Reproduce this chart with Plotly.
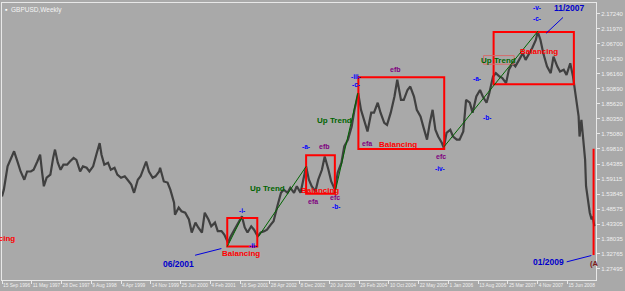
import plotly.graph_objects as go

# ---------------- data (bar index = weekly bar number since 15 Sep 1996) ----------------
bars = [0, 2, 6, 10, 13, 17, 20, 24, 27, 31, 34, 38, 41, 43, 45, 48, 52, 55, 57, 60, 63, 66, 70, 73, 77, 80,
        84, 87, 91, 94, 98, 102, 105, 107, 110, 114, 117, 121, 124, 128, 132, 135, 139, 142, 146, 149, 153,
        155, 158, 162, 165, 169, 170, 174, 178, 181, 185, 186, 190, 193, 197, 201, 204, 208, 211, 215, 218,
        222, 225, 229, 232, 236, 239, 243, 246, 250, 254, 258, 261, 264, 268, 271, 275, 278, 282, 285, 289,
        292, 296, 300, 303, 307, 310, 314, 317, 321, 324, 327, 330, 333, 337, 340, 344, 347, 351, 354, 358,
        361, 365, 368, 372, 376, 379, 383, 386, 390, 393, 397, 400, 404, 407, 411, 414, 418, 422, 425, 429,
        432, 436, 439, 443, 446, 450, 453, 457, 460, 463, 466, 469, 473, 475, 478, 482, 485, 489, 492, 496,
        499, 503, 506, 510, 514, 517, 521, 524, 528, 531, 535, 538, 542, 545, 549, 552, 556, 560, 563, 567,
        570, 574, 576, 579, 582, 586, 590, 593, 597, 600, 604, 607, 611, 614, 616, 618, 620, 621, 623, 625,
        627, 628, 630, 632, 634, 635, 637]
prices = [1.530, 1.554, 1.636, 1.666, 1.689, 1.649, 1.618, 1.589, 1.618, 1.618, 1.624, 1.653, 1.677, 1.618,
          1.566, 1.596, 1.607, 1.666, 1.695, 1.649, 1.624, 1.642, 1.642, 1.653, 1.666, 1.659, 1.618, 1.636,
          1.631, 1.618, 1.636, 1.684, 1.718, 1.677, 1.642, 1.649, 1.624, 1.631, 1.607, 1.596, 1.601, 1.589,
          1.572, 1.543, 1.589, 1.601, 1.636, 1.653, 1.618, 1.596, 1.601, 1.618, 1.631, 1.583, 1.579, 1.554,
          1.508, 1.466, 1.491, 1.478, 1.473, 1.449, 1.403, 1.438, 1.421, 1.403, 1.473, 1.449, 1.425, 1.438,
          1.408, 1.408, 1.396, 1.368, 1.390, 1.413, 1.438, 1.460, 1.421, 1.403, 1.425, 1.413, 1.390, 1.403,
          1.408, 1.413, 1.431, 1.443, 1.495, 1.543, 1.554, 1.543, 1.561, 1.543, 1.566, 1.543, 1.589, 1.636,
          1.589, 1.566, 1.548, 1.589, 1.624, 1.671, 1.624, 1.583, 1.554, 1.614, 1.649, 1.706, 1.730, 1.776,
          1.835, 1.894, 1.835, 1.789, 1.759, 1.825, 1.825, 1.860, 1.825, 1.789, 1.782, 1.825, 1.882, 1.941,
          1.870, 1.870, 1.905, 1.917, 1.882, 1.835, 1.812, 1.776, 1.730, 1.789, 1.835, 1.765, 1.741, 1.718,
          1.701, 1.754, 1.765, 1.741, 1.730, 1.730, 1.759, 1.870, 1.860, 1.825, 1.882, 1.905, 1.882, 1.860,
          1.894, 1.952, 1.964, 1.952, 1.947, 1.929, 1.976, 1.999, 1.988, 2.011, 2.034, 2.011, 2.034, 2.052,
          2.081, 2.110, 2.081, 2.034, 1.988, 1.964, 2.022, 1.988, 1.970, 1.976, 1.958, 1.999, 1.952, 1.905,
          1.860, 1.812, 1.741, 1.800, 1.730, 1.659, 1.566, 1.508, 1.473, 1.449, 1.460, 1.425]

x_tick_bars = [0, 32, 64, 96, 128, 160, 192, 224, 256, 288, 320, 352, 384, 416, 448, 480, 512, 544, 576, 608]
x_tick_labels = ["15 Sep 1996", "11 May 1997", "28 Dec 1997", "9 Aug 1998", "4 Apr 1999", "14 Nov 1999",
                 "25 Jun 2000", "4 Feb 2001", "16 Sep 2001", "28 Apr 2002", "8 Dec 2002", "20 Jul 2003",
                 "29 Feb 2004", "10 Oct 2004", "22 May 2005", "1 Jan 2006", "13 Aug 2006", "25 Mar 2007",
                 "4 Nov 2007", "15 Jun 2008"]
y_tick_labels = ["2.17240", "2.11970", "2.06700", "2.01430", "1.96160", "1.90890", "1.85620", "1.80350",
                 "1.75080", "1.69810", "1.64385", "1.59115", "1.53845", "1.48575", "1.43305", "1.38035",
                 "1.32765", "1.27495"]

# analyst drawings: (bar0, price0, bar1, price1)
boxes = [(242.2, 1.3537, 274.5, 1.4545), (327.0, 1.5399, 357.9, 1.6752),
         (383.2, 1.6973, 475.5, 1.9493), (528.6, 1.9254, 614.9, 2.1092)]
box_edge = (636.1, 1.3238, 1.6980)
trend_box = (517.8, 1.9957, 550.7, 2.0259)
trend_lines = [(242.2, 1.3537, 257.8, 1.4556), (275.9, 1.3899, 327.1, 1.6359),
               (357.9, 1.5424, 382.7, 1.8938), (475.3, 1.7051, 576.4, 2.1127)]
date_lines = [(207.6, 1.3231, 235.9, 1.3467), (607.2, 1.2999, 633.7, 1.3221), (585.1, 2.1046, 603.2, 2.1601)]

date_labels = [("06/2001", 189.9, 1.2940), ("01/2009", 587.8, 1.3010), ("11/2007", 610.1, 2.1952)]
balancing_labels = [(256.8, 1.3291), (341.6, 1.5522), (426.2, 1.7146), (577.9, 2.0399)]
uptrend_labels = [(285.1, 1.5564), (357.0, 1.7964), (534.2, 2.0097)]
ef_labels = [("efb", 347.3, 1.7061), ("efa", 334.2, 1.5129), ("efc", 358.3, 1.5248),
             ("efb", 423.3, 1.9756), ("efa", 392.6, 1.7156), ("efc", 471.8, 1.6710)]
wave_labels = [("-i-", 258.0, 1.4820), ("-ii-", 270.3, 1.3565), ("-a-", 327.0, 1.7061), ("-b-", 358.8, 1.4964),
               ("-iii-", 380.2, 1.9510), ("-c-", 380.2, 1.9229), ("-iv-", 471.4, 1.6271),
               ("-a-", 510.9, 1.9465), ("-b-", 521.6, 1.8094), ("-v-", 575.4, 2.1959), ("-c-", 575.4, 2.1573)]

BG = "#a9a9a9"
FONT = "Liberation Sans, Arial, sans-serif"

fig = go.Figure()
fig.add_trace(go.Scatter(x=bars, y=prices, mode="lines",
                         line=dict(color="#404040", width=2.2), hoverinfo="skip"))

shapes = []
for b0, p0, b1, p1 in boxes:
    shapes.append(dict(type="rect", xref="x", yref="y", x0=b0, x1=b1, y0=p0, y1=p1,
                       line=dict(color="#ff0000", width=2), layer="above"))
shapes.append(dict(type="line", xref="x", yref="y", x0=box_edge[0], x1=box_edge[0],
                   y0=box_edge[1], y1=box_edge[2], line=dict(color="#ff0000", width=2)))
shapes.append(dict(type="rect", xref="x", yref="y", x0=trend_box[0], x1=trend_box[2],
                   y0=trend_box[1], y1=trend_box[3], line=dict(color="#d46a6a", width=1)))
for b0, p0, b1, p1 in trend_lines:
    shapes.append(dict(type="line", xref="x", yref="y", x0=b0, x1=b1, y0=p0, y1=p1,
                       line=dict(color="#006400", width=1)))
for b0, p0, b1, p1 in date_lines:
    shapes.append(dict(type="line", xref="x", yref="y", x0=b0, x1=b1, y0=p0, y1=p1,
                       line=dict(color="#0000dd", width=1)))

ann = []
def label(text, x, y, color, size, **kw):
    d = dict(text="<b>%s</b>" % text, x=x, y=y, xref="x", yref="y", showarrow=False,
             font=dict(family=FONT, size=size, color=color))
    d.update(kw)
    ann.append(d)

for t, x, y in date_labels:
    label(t, x, y, "#0000cc", 8.5)
for x, y in balancing_labels:
    label("Balancing", x, y, "#ff0000", 8)
label("Balancing", 15.9, 1.3818, "#ff0000", 8, xanchor="right")
for x, y in uptrend_labels:
    label("Up Trend", x, y, "#006400", 8)
for t, x, y in ef_labels:
    label(t, x, y, "#800080", 7)
for t, x, y in wave_labels:
    label(t, x, y, "#0000ff", 6.5)
label("(A", 630.2, 1.2957, "#7a1a1a", 7.5, xanchor="left")

ann.append(dict(text="GBPUSD,Weekly", xref="paper", yref="paper", x=0.012, y=1, xanchor="left",
                yanchor="top", yshift=-1, showarrow=False, font=dict(family=FONT, size=6.5, color="#f4f4f4")))
ann.append(dict(text="\u25aa", xref="paper", yref="paper", x=0.002, y=1, xanchor="left",
                yanchor="top", yshift=-1, showarrow=False, font=dict(family=FONT, size=7, color="#ffffff")))

fig.update_layout(
    width=625, height=291,
    margin=dict(l=1, r=22, t=3, b=10.5),
    paper_bgcolor=BG, plot_bgcolor=BG,
    showlegend=False,
    shapes=shapes, annotations=ann,
    xaxis=dict(range=[0, 638.7], tickvals=x_tick_bars, ticktext=x_tick_labels, tickangle=0,
               ticklabelposition="outside right", ticks="outside", ticklen=3, tickcolor="#e8e8e8",
               showgrid=False, zeroline=False, showline=True, linecolor="#e8e8e8", linewidth=1,
               mirror=True, tickfont=dict(family=FONT, size=4.8, color="#f0f0f0")),
    yaxis=dict(range=[1.2360, 2.2111], side="right",
               tickvals=[float(v) for v in y_tick_labels], ticktext=y_tick_labels,
               ticks="outside", ticklen=3, tickcolor="#e8e8e8",
               showgrid=False, zeroline=False, showline=True, linecolor="#e8e8e8", linewidth=1,
               mirror=True, tickfont=dict(family=FONT, size=6, color="#f0f0f0")),
)

fig.write_html("out.html")
